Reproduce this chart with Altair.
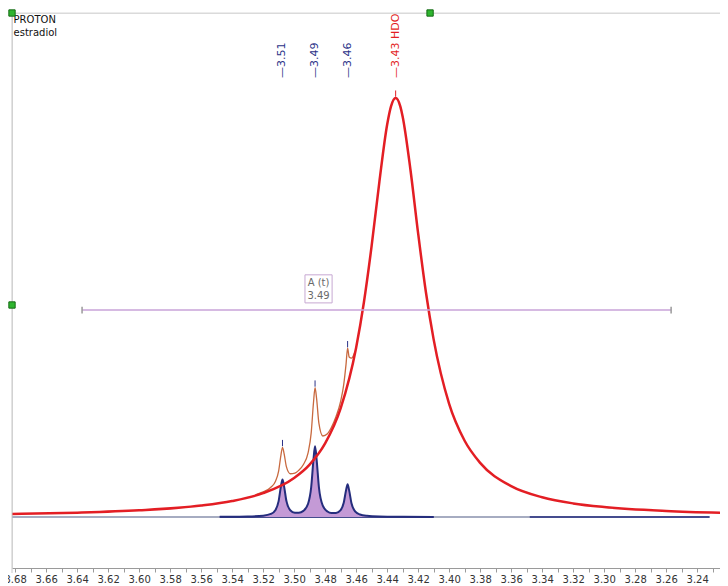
import altair as alt
import pandas as pd

# ---------------- data ----------------
# HDO singlet (red), chemical shift (ppm) vs relative intensity
HDO_PPM = [3.682, 3.64, 3.60, 3.56, 3.54, 3.52, 3.50, 3.49, 3.48, 3.47, 3.46, 3.455,
           3.45, 3.445, 3.44, 3.4375, 3.4345, 3.4315, 3.43, 3.425, 3.42, 3.415, 3.41,
           3.40, 3.39, 3.38, 3.36, 3.34, 3.32, 3.30, 3.26, 3.2201]
HDO_INT = [0.71, 1.03, 1.59, 2.72, 3.81, 5.69, 9.32, 12.52, 17.56, 25.92, 40.42, 51.2,
           64.7, 80.0, 93.6, 98.0, 100.0, 98.0, 95.6, 83.0, 67.7, 53.7, 42.4,
           27.0, 18.2, 12.93, 7.36, 4.71, 3.25, 2.38, 1.43, 0.95]

# triplet A (t) 3.49 (navy outline, purple fill)
TRIP_PPM = [3.548, 3.54, 3.53, 3.52, 3.515, 3.512, 3.510, 3.5085, 3.5075, 3.5065, 3.505,
            3.5025, 3.4995, 3.497, 3.494, 3.491, 3.489, 3.4875, 3.4865, 3.4855, 3.484,
            3.4815, 3.4785, 3.476, 3.473, 3.470, 3.468, 3.4665, 3.4655, 3.4645, 3.463,
            3.4605, 3.4575, 3.453, 3.445, 3.43, 3.41]
TRIP_INT = [0.05, 0.07, 0.12, 0.32, 0.74, 1.70, 3.79, 7.34, 8.98, 7.37, 3.87,
            1.62, 1.02, 1.01, 1.46, 3.18, 7.08, 13.77, 16.86, 13.77, 7.08,
            2.70, 1.32, 0.97, 0.98, 1.66, 3.39, 6.39, 7.79, 6.36, 3.30,
            1.27, 0.59, 0.29, 0.13, 0.055, 0.02]

# summed trace (brown) over the triplet region
SUM_PPM = [3.525, 3.52, 3.515, 3.512, 3.510, 3.5085, 3.5075, 3.5065, 3.505, 3.5025,
           3.4995, 3.497, 3.494, 3.491, 3.489, 3.4875, 3.4865, 3.4855, 3.484, 3.4815,
           3.4785, 3.476, 3.473, 3.470, 3.468, 3.4665, 3.4655, 3.4645, 3.463, 3.461]
SUM_INT = [5.3, 6.01, 7.11, 8.54, 10.97, 14.79, 16.62, 15.21, 12.02, 10.33,
           10.47, 11.15, 12.54, 15.32, 20.01, 27.34, 30.88, 28.26, 22.33, 19.34,
           19.87, 21.36, 23.91, 27.58, 31.60, 36.49, 40.3, 38.2, 37.9, 39.2]

# spectrum baseline
BASE_PPM = [3.682, 3.232]
BASE_INT = [0.0, 0.0]
NAVY_SEG_START = [3.548, 3.348]
NAVY_SEG_END = [3.41, 3.232]

# peak picking labels
PEAK_PPM = [3.5075, 3.4865, 3.4655, 3.4345]
PEAK_TOP = [16.9, 31.1, 40.5, 100.3]
PEAK_TEXT = ["\u20143.51", "\u20143.49", "\u20143.46", "\u20143.43 HDO"]
PEAK_COLOR = ["#2b3288", "#2b3288", "#2b3288", "#e31e24"]
LABEL_LEVEL = 104.8

# multiplet annotation
MULT_RANGE = [3.6368, 3.2568]
MULT_LEVEL = 49.4
MULT_BOX_X = [3.4930, 3.4755]
MULT_BOX_Y = [51.1, 57.8]
MULT_TEXT = ["A (t)", "3.49"]
MULT_TEXT_Y = [55.9, 52.7]

HEADER_TEXT = ["PROTON", "estradiol"]
HEADER_Y = [118.6, 115.5]

HANDLE_PPM = [3.682, 3.4123, 3.682]
HANDLE_INT = [120.29, 120.29, 50.6]

X_DOMAIN = [3.2201, 3.682]
Y_DOMAIN = [-12.17, 120.29]
TICKS = [round(3.22 + 0.01 * i, 2) for i in range(47)]

# ---------------- styling ----------------
RED = "#e31e24"
NAVY = "#252d7d"
BROWN = "#c8693f"
FILL = "#c49ad6"
ANNOT = "#c9a3d9"

xs = alt.Scale(domain=X_DOMAIN, reverse=True, nice=False, zero=False)
ys = alt.Scale(domain=Y_DOMAIN, nice=False, zero=False)
xaxis = alt.Axis(values=TICKS, title=None, grid=False, tickSize=4, tickColor="#9a9a9a",
                 domainColor="#9a9a9a", labelColor="#333333", labelFont="DejaVu Sans",
                 labelFontSize=10, labelPadding=2, labelFlush=False, labelOverlap=False,
                 labelExpr="(round(datum.value*100) % 2 == 0) ? format(datum.value, '.2f') : ''")


def X(f="ppm"):
    return alt.X(f, type="quantitative", scale=xs, axis=xaxis)


def Y(f="i"):
    return alt.Y(f, type="quantitative", scale=ys, axis=None)


hdo = pd.DataFrame({"ppm": HDO_PPM, "i": HDO_INT})
trip = pd.DataFrame({"ppm": TRIP_PPM, "i": TRIP_INT})
summ = pd.DataFrame({"ppm": SUM_PPM, "i": SUM_INT})
base = pd.DataFrame({"ppm": BASE_PPM, "i": BASE_INT})
segs = pd.DataFrame({"ppm": NAVY_SEG_START, "ppm2": NAVY_SEG_END, "i": [0.0, 0.0]})
peaks = pd.DataFrame({"ppm": PEAK_PPM, "top": PEAK_TOP, "text": PEAK_TEXT, "color": PEAK_COLOR})
peaks["top2"] = peaks["top"] + 1.5
peaks["lvl"] = LABEL_LEVEL
mult = pd.DataFrame({"ppm": [MULT_RANGE[0]], "ppm2": [MULT_RANGE[1]], "i": [MULT_LEVEL]})
mult_ends = pd.DataFrame({"ppm": MULT_RANGE, "i": [MULT_LEVEL - 0.8] * 2, "i2": [MULT_LEVEL + 0.8] * 2})
box = pd.DataFrame({"ppm": [MULT_BOX_X[0]], "ppm2": [MULT_BOX_X[1]],
                    "i": [MULT_BOX_Y[0]], "i2": [MULT_BOX_Y[1]]})
box_txt = pd.DataFrame({"ppm": [(MULT_BOX_X[0] + MULT_BOX_X[1]) / 2] * 2,
                        "i": MULT_TEXT_Y, "text": MULT_TEXT})
header = pd.DataFrame({"ppm": [3.681] * 2, "i": HEADER_Y, "text": HEADER_TEXT})
handles = pd.DataFrame({"ppm": HANDLE_PPM, "i": HANDLE_INT})
dummy = pd.DataFrame({"a": [0]})

layers = [
    alt.Chart(base).mark_line(color="#8890ac", strokeWidth=1.3).encode(x=X(), y=Y()),
    alt.Chart(segs).mark_rule(color=NAVY, strokeWidth=1.4).encode(x=X(), x2=alt.X2("ppm2"), y=Y()),
    alt.Chart(trip).mark_area(color=FILL, opacity=1, interpolate="monotone").encode(x=X(), y=Y()),
    alt.Chart(trip).mark_line(color=NAVY, strokeWidth=2, interpolate="monotone").encode(x=X(), y=Y()),
    alt.Chart(summ).mark_line(color=BROWN, strokeWidth=1.3, interpolate="monotone").encode(x=X(), y=Y()),
    alt.Chart(hdo).mark_line(color=RED, strokeWidth=2.5, interpolate="monotone").encode(x=X(), y=Y()),
    alt.Chart(peaks).mark_rule(strokeWidth=1).encode(
        x=X(), y=Y("top"), y2=alt.Y2("top2"), color=alt.Color("color:N", scale=None)),
    alt.Chart(peaks).mark_text(angle=270, align="left", baseline="middle", fontSize=11,
                               font="DejaVu Sans").encode(
        x=X(), y=Y("lvl"), text="text:N", color=alt.Color("color:N", scale=None)),
    alt.Chart(mult).mark_rule(color=ANNOT, strokeWidth=1.5).encode(x=X(), x2=alt.X2("ppm2"), y=Y()),
    alt.Chart(mult_ends).mark_rule(color="#9a9a9a", strokeWidth=1.5).encode(x=X(), y=Y(), y2=alt.Y2("i2")),
    alt.Chart(box).mark_rect(fill="white", stroke="#c7a8d2", strokeWidth=1).encode(
        x=X(), x2=alt.X2("ppm2"), y=Y(), y2=alt.Y2("i2")),
    alt.Chart(box_txt).mark_text(fontSize=10, font="DejaVu Sans", color="#6a6a6a").encode(
        x=X(), y=Y(), text="text:N"),
    alt.Chart(header).mark_text(fontSize=10, font="DejaVu Sans", color="#111111",
                                align="left", baseline="middle").encode(x=X(), y=Y(), text="text:N"),
    alt.Chart(dummy).mark_rule(color="#c8c8c8", strokeWidth=1).encode(
        x=alt.value(0), y=alt.value(0), y2=alt.value(560)),
    alt.Chart(dummy).mark_rule(color="#d8d8d8", strokeWidth=1).encode(
        x=alt.value(0), x2=alt.value(716), y=alt.value(0)),
    alt.Chart(handles).mark_square(size=40, color="#2fb52f", stroke="#146b14",
                                   strokeWidth=1, opacity=1).encode(x=X(), y=Y()),
]

chart = alt.layer(*layers).properties(
    width=716, height=555,
    padding={"left": 4, "top": 5, "right": -8, "bottom": 18},
    autosize=alt.AutoSizeParams(type="none"),
).configure_view(stroke=None).configure(background="white")

chart.save("out.html", embed_options={"renderer": "svg", "actions": False})
